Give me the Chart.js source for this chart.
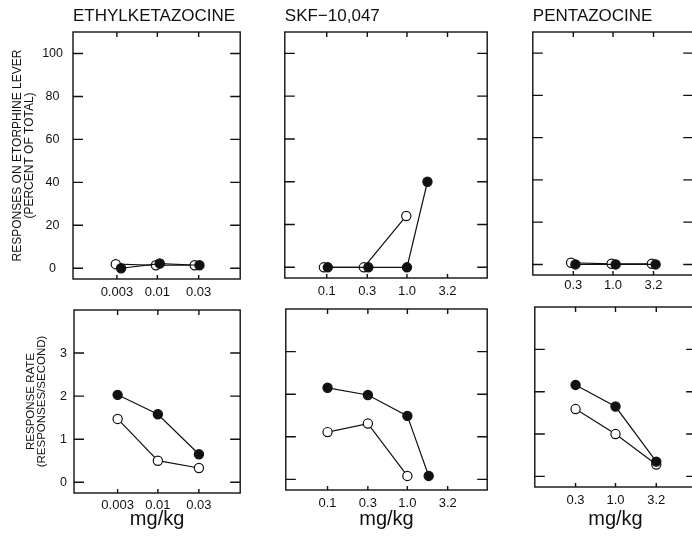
<!DOCTYPE html>
<html>
<head>
<meta charset="utf-8">
<script src="https://cdn.jsdelivr.net/npm/chart.js@4.4.1/dist/chart.umd.min.js"></script>
<style>
  html, body { margin: 0; padding: 0; background: #fff; width: 692px; height: 538px; overflow: hidden; }
  canvas { position: absolute; }
</style>
</head>
<body>
<canvas id="etkPct"></canvas>
<canvas id="skfPct"></canvas>
<canvas id="pentPct"></canvas>
<canvas id="etkRate"></canvas>
<canvas id="skfRate"></canvas>
<canvas id="pentRate"></canvas>
<script>
// dosis en el eje x (mg/kg, escala log)
const etkTicks = [0.0032, 0.01, 0.032];
const etkTickLabels = ['0.003', '0.01', '0.03'];
const skfTicks = [0.1, 0.32, 1.0, 3.2];
const skfTickLabels = ['0.1', '0.3', '1.0', '3.2'];
const pentTicks = [0.32, 1.0, 3.2];
const pentTickLabels = ['0.3', '1.0', '3.2'];

const pctTicks = [0, 20, 40, 60, 80, 100];
const rateTicks = [0, 1, 2, 3];

// fila superior: respuestas en la palanca de etorfina (% del total)
const etkPctOpenDose = [0.0031, 0.0096, 0.0286];
const etkPctOpen = [1.9, 1.4, 1.4];
const etkPctFilledDose = [0.0036, 0.0107, 0.0327];
const etkPctFilled = [0, 2.2, 1.4];

const skfPctOpenDose = [0.092, 0.29, 0.98];
const skfPctOpen = [0, 0, 24];
const skfPctFilledDose = [0.103, 0.33, 1.0, 1.8];
const skfPctFilled = [0, 0, 0, 40];

const pentPctOpenDose = [0.30, 0.96, 3.05];
const pentPctOpen = [0.8, 0.3, 0.3];
const pentPctFilledDose = [0.34, 1.08, 3.4];
const pentPctFilled = [0, 0, 0];

// fila inferior: tasa de respuesta (respuestas/segundo)
const etkRateDose = [0.0032, 0.01, 0.032];
const etkRateFilled = [2.03, 1.58, 0.65];
const etkRateOpen = [1.47, 0.50, 0.33];

const skfRateFilledDose = [0.1, 0.32, 1.0, 1.85];
const skfRateFilled = [2.15, 1.98, 1.49, 0.08];
const skfRateOpenDose = [0.1, 0.32, 1.0];
const skfRateOpen = [1.11, 1.31, 0.08];

const pentRateDose = [0.32, 1.0, 3.2];
const pentRateFilled = [2.16, 1.65, 0.35];
const pentRateOpen = [1.59, 1.0, 0.28];

Chart.defaults.font.family = "'Liberation Sans', Arial, sans-serif";
Chart.defaults.color = '#111';

// marco con marcas hacia adentro en los cuatro lados
const marcoTicks = {
    id: 'marcoTicks',
    beforeDatasetsDraw(chart, args, opts) {
        const ctx = chart.ctx;
        const a = chart.chartArea;
        const x = chart.scales.x, y = chart.scales.y;
        ctx.save();
        ctx.strokeStyle = '#111';
        ctx.lineWidth = 1.4;
        ctx.strokeRect(a.left, a.top, a.right - a.left, a.bottom - a.top);
        ctx.beginPath();
        opts.yTicks.forEach(v => {
            const py = y.getPixelForValue(v);
            ctx.moveTo(a.left, py); ctx.lineTo(a.left + 10, py);
            ctx.moveTo(a.right, py); ctx.lineTo(a.right - 10, py);
        });
        opts.xTicks.forEach(v => {
            const px = x.getPixelForValue(v);
            ctx.moveTo(px, a.bottom); ctx.lineTo(px, a.bottom - 4);
            ctx.moveTo(px, a.top); ctx.lineTo(px, a.top + 5);
        });
        ctx.stroke();
        ctx.restore();
    }
};

function serie(dosis, valores, relleno) {
    return {
        data: dosis.map((d, i) => ({ x: d, y: valores[i] })),
        borderColor: '#111',
        borderWidth: 1.2,
        pointRadius: 4.6,
        pointBorderWidth: 1.2,
        pointBorderColor: '#111',
        pointBackgroundColor: relleno ? '#111' : '#fff',
        tension: 0,
        clip: false
    };
}

function crearPanel(id, geo, cfg) {
    const cv = document.getElementById(id);
    cv.width = geo.w;
    cv.height = geo.h;
    cv.style.left = geo.x + 'px';
    cv.style.top = geo.y + 'px';

    const yScale = {
        type: 'linear',
        min: cfg.yMin, max: cfg.yMax,
        display: geo.yw > 0,
        grid: { display: false, drawTicks: false },
        border: { display: false },
        afterBuildTicks: s => { s.ticks = cfg.yTicks.map(v => ({ value: v })); },
        ticks: { crossAlign: 'center', padding: cfg.yPad, font: { size: 12.5 } },
        title: {
            display: !!cfg.yTitle,
            text: cfg.yTitle,
            font: { size: cfg.yTitleSize, lineHeight: cfg.yTitleLH },
            padding: { top: cfg.yTitlePad, bottom: 0 }
        }
    };
    if (geo.yw > 0) yScale.afterFit = s => { s.width = geo.yw; };

    new Chart(cv, {
        type: 'line',
        data: { datasets: [serie(cfg.fDose, cfg.fVal, true), serie(cfg.oDose, cfg.oVal, false)] },
        options: {
            responsive: false,
            animation: false,
            events: [],
            layout: { padding: { left: geo.yw > 0 ? 0 : 4, right: 4, top: geo.padTop, bottom: 0 } },
            plugins: {
                legend: { display: false },
                tooltip: { enabled: false },
                title: {
                    display: !!cfg.title,
                    text: cfg.title,
                    align: 'start',
                    fullSize: false,
                    font: { size: 17, weight: 'normal', lineHeight: 1.2 },
                    padding: { top: 6, bottom: 5.6 }
                },
                marcoTicks: { xTicks: cfg.xTicks, yTicks: cfg.yTicks }
            },
            scales: {
                x: {
                    type: 'logarithmic',
                    min: cfg.xMin, max: cfg.xMax,
                    grid: { display: false, drawTicks: false },
                    border: { display: false },
                    afterBuildTicks: s => { s.ticks = cfg.xTicks.map(v => ({ value: v })); },
                    afterFit: s => { s.height = geo.xh; },
                    ticks: {
                        padding: cfg.xPad,
                        maxRotation: 0,
                        autoSkip: false,
                        font: { size: 13 },
                        callback: (v, i) => cfg.xLabels[i]
                    },
                    title: {
                        display: !!cfg.xTitle,
                        text: cfg.xTitle,
                        font: { size: 20, lineHeight: 1 },
                        padding: { top: 0, bottom: 9 }
                    }
                },
                y: yScale
            }
        },
        plugins: [marcoTicks]
    });
}

const pctTitle = ['RESPONSES ON ETORPHINE LEVER', '(PERCENT OF TOTAL)'];
const rateTitle = ['RESPONSE RATE', '(RESPONSES/SECOND)'];

// fila superior
crearPanel('etkPct', { x: 0, y: 0, w: 246, h: 306, yw: 73, xh: 27, padTop: 0 }, {
    title: 'ETHYLKETAZOCINE', xMin: 0.00093, xMax: 0.103, xTicks: etkTicks, xLabels: etkTickLabels, xPad: 5.4,
    yMin: -5, yMax: 110, yTicks: pctTicks, yPad: 10,
    yTitle: pctTitle, yTitleSize: 12, yTitleLH: 1.0, yTitlePad: 11.5,
    fDose: etkPctFilledDose, fVal: etkPctFilled, oDose: etkPctOpenDose, oVal: etkPctOpen
});
crearPanel('skfPct', { x: 279, y: 0, w: 214, h: 306, yw: 0, xh: 28, padTop: 0 }, {
    title: 'SKF\u221210,047', xMin: 0.03, xMax: 10, xTicks: skfTicks, xLabels: skfTickLabels, xPad: 6,
    yMin: -5, yMax: 110, yTicks: pctTicks, yPad: 10,
    fDose: skfPctFilledDose, fVal: skfPctFilled, oDose: skfPctOpenDose, oVal: skfPctOpen
});
crearPanel('pentPct', { x: 527, y: 0, w: 172, h: 306, yw: 0, xh: 31, padTop: 0 }, {
    title: 'PENTAZOCINE', xMin: 0.1, xMax: 10, xTicks: pentTicks, xLabels: pentTickLabels, xPad: 3,
    yMin: -5, yMax: 110, yTicks: pctTicks, yPad: 10,
    fDose: pentPctFilledDose, fVal: pentPctFilled, oDose: pentPctOpenDose, oVal: pentPctOpen
});

// fila inferior
crearPanel('etkRate', { x: 0, y: 294, w: 246, h: 244, yw: 74, xh: 45, padTop: 16 }, {
    xMin: 0.00093, xMax: 0.103, xTicks: etkTicks, xLabels: etkTickLabels, xPad: 4.5, xTitle: 'mg/kg',
    yMin: -0.25, yMax: 4, yTicks: rateTicks, yPad: 7,
    yTitle: rateTitle, yTitleSize: 11.5, yTitleLH: 0.92, yTitlePad: 25.5,
    fDose: etkRateDose, fVal: etkRateFilled, oDose: etkRateDose, oVal: etkRateOpen
});
crearPanel('skfRate', { x: 280, y: 293, w: 213, h: 245, yw: 0, xh: 48, padTop: 16 }, {
    xMin: 0.03, xMax: 10, xTicks: skfTicks, xLabels: skfTickLabels, xPad: 5.5, xTitle: 'mg/kg',
    yMin: -0.25, yMax: 4, yTicks: rateTicks, yPad: 7,
    fDose: skfRateFilledDose, fVal: skfRateFilled, oDose: skfRateOpenDose, oVal: skfRateOpen
});
crearPanel('pentRate', { x: 529, y: 291, w: 173, h: 247, yw: 0, xh: 51, padTop: 16 }, {
    xMin: 0.1, xMax: 10, xTicks: pentTicks, xLabels: pentTickLabels, xPad: 5.5, xTitle: 'mg/kg',
    yMin: -0.25, yMax: 4, yTicks: rateTicks, yPad: 7,
    fDose: pentRateDose, fVal: pentRateFilled, oDose: pentRateDose, oVal: pentRateOpen
});
</script>
</body>
</html>
